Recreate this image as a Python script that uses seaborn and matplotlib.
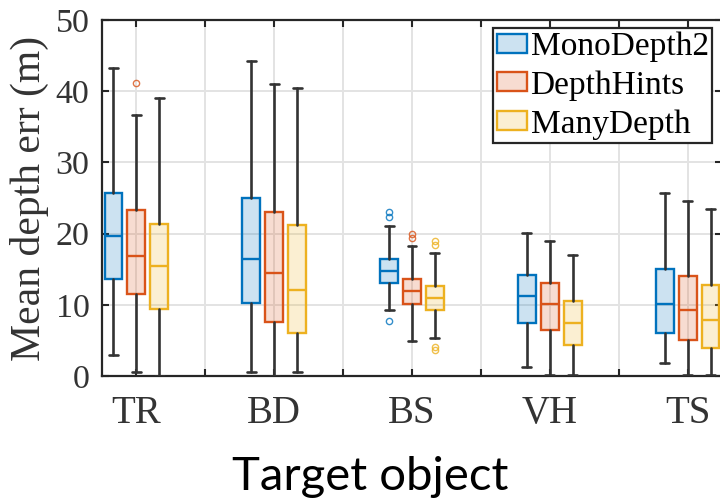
import numpy as np
import matplotlib
matplotlib.use("Agg")
import matplotlib.pyplot as plt
import seaborn as sns
from matplotlib.patches import Patch
from matplotlib import font_manager

# ---- data ----
categories = ["TR", "BD", "BS", "VH", "TS"]
methods = ["MonoDepth2", "DepthHints", "ManyDepth"]
colors = ["#0072BD", "#D95319", "#EDB120"]

# per method: lists over categories
whislo = {
    "MonoDepth2": [2.95, 0.6, 9.3, 1.3, 1.8],
    "DepthHints": [0.5, 0.05, 4.9, 0.1, 0.1],
    "ManyDepth":  [0.05, 0.5, 5.4, 0.1, 0.1],
}
q1 = {
    "MonoDepth2": [13.6, 10.3, 13.0, 7.5, 6.1],
    "DepthHints": [11.5, 7.6, 10.1, 6.5, 5.1],
    "ManyDepth":  [9.4, 6.1, 9.2, 4.3, 3.9],
}
med = {
    "MonoDepth2": [19.7, 16.5, 14.8, 11.2, 10.1],
    "DepthHints": [16.9, 14.5, 12.0, 10.1, 9.3],
    "ManyDepth":  [15.5, 12.1, 11.0, 7.5, 7.8],
}
q3 = {
    "MonoDepth2": [25.7, 25.0, 16.4, 14.2, 15.0],
    "DepthHints": [23.3, 23.0, 13.6, 13.1, 14.1],
    "ManyDepth":  [21.4, 21.2, 12.6, 10.5, 12.8],
}
whishi = {
    "MonoDepth2": [43.3, 44.2, 21.1, 20.1, 25.7],
    "DepthHints": [36.7, 41.0, 18.2, 19.0, 24.6],
    "ManyDepth":  [39.1, 40.4, 17.3, 17.0, 23.4],
}
fliers = {
    "MonoDepth2": [[], [], [23.0, 22.3, 7.7], [], []],
    "DepthHints": [[41.1], [], [19.9, 19.4], [], []],
    "ManyDepth":  [[], [], [19.0, 18.4, 4.1, 3.65], [], []],
}
yticks = [0, 10, 20, 30, 40, 50]

sns.set_theme(style="ticks")
plt.rcParams["font.family"] = ["Liberation Serif", "DejaVu Serif"]

fig = plt.figure(figsize=(7.2, 5.03), dpi=100)
ax = fig.add_axes([102 / 720, 1 - 376 / 503, 620 / 720, 356 / 503])

offsets = [-1 / 6, 0, 1 / 6]
box_w = 0.13
dark = "#333333"
for m, c, off in zip(methods, colors, offsets):
    stats = []
    for i in range(len(categories)):
        stats.append(dict(whislo=whislo[m][i], q1=q1[m][i], med=med[m][i],
                          q3=q3[m][i], whishi=whishi[m][i], fliers=fliers[m][i]))
    pos = np.arange(len(categories)) + off
    ax.bxp(stats, positions=pos, widths=box_w, patch_artist=True,
           showfliers=True, manage_ticks=False,
           boxprops=dict(facecolor=matplotlib.colors.to_rgba(c, 0.2),
                         edgecolor=c, linewidth=1.7),
           medianprops=dict(color=c, linewidth=1.7),
           whiskerprops=dict(color=dark, linewidth=1.9),
           capprops=dict(color=dark, linewidth=1.9),
           capwidths=0.065,
           flierprops=dict(marker="o", markersize=4.5, markerfacecolor="none",
                           markeredgecolor=c, markeredgewidth=1.0, alpha=0.8),
           zorder=3)

ax.set_xlim(-0.25, 4.25)
ax.set_ylim(0, 50)
ax.set_xticks(np.arange(len(categories)))
ax.set_xticklabels(categories, fontsize=28, color="#333333")
ax.set_xticks(np.arange(0.5, 4.5, 1.0), minor=True)
ax.set_yticks(yticks)
ax.set_yticklabels([str(v) for v in yticks], fontsize=24.5, color="#333333")
ax.grid(True, which="both", color="#e3e3e3", linewidth=1.4, zorder=0)
ax.set_axisbelow(True)
ax.tick_params(axis="both", which="both", direction="in", length=5, width=1.5,
               top=True, right=True, color="#262626")
ax.tick_params(axis="y", pad=9)
ax.tick_params(axis="x", pad=14)
for s in ax.spines.values():
    s.set_color("#262626")
    s.set_linewidth(1.6)
    s.set_visible(True)

ax.set_ylabel("Mean depth err (m)", fontsize=30, color="#333333", labelpad=5)

narrow = "Liberation Sans Narrow"
try:
    font_manager.findfont(font_manager.FontProperties(family=narrow), fallback_to_default=False)
    xfam = [narrow, "DejaVu Sans"]
    xsize = 41
except Exception:
    xfam = ["Lato", "DejaVu Sans"]
    xsize = 34
fig.text(370 / 720, 1 - 490 / 503, "Target object", ha="center", va="baseline",
         fontsize=xsize, family=xfam, color="black")

handles = [Patch(facecolor=matplotlib.colors.to_rgba(c, 0.2), edgecolor=c,
                 linewidth=1.7, label=m) for m, c in zip(methods, colors)]
leg = ax.legend(handles=handles, loc="upper right", bbox_to_anchor=(712 / 720, 1 - 28 / 503),
                bbox_transform=fig.transFigure, fontsize=24, frameon=True, fancybox=False,
                edgecolor="#262626", framealpha=1, handlelength=0.9, handleheight=0.5,
                handletextpad=0.12, borderpad=0.1, labelspacing=0.25, borderaxespad=0)
leg.get_frame().set_linewidth(1.6)
for t in leg.get_texts():
    t.set_color("black")

fig.savefig("out.png", dpi=100)
